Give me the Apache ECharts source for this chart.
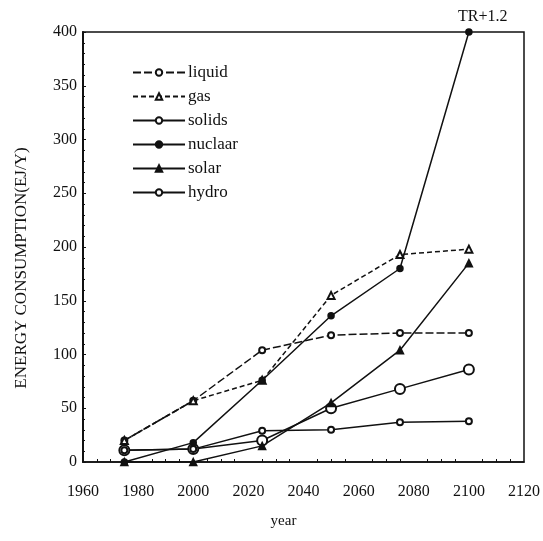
<!DOCTYPE html>
<html>
<head>
<meta charset="utf-8">
<script src="https://cdn.jsdelivr.net/npm/echarts@6/dist/echarts.min.js"></script>
<style>
html,body{margin:0;padding:0;background:#fff;}
#chart{width:543px;height:541px;}
</style>
</head>
<body>
<div id="chart"></div>
<script>
// Data
const years = [1975, 2000, 2025, 2050, 2075, 2100];
const liquid  = [20, 57, 104, 118, 120, 120];
const gas     = [20, 57, 76, 155, 193, 198];
const solids  = [11, 12, 20, 50, 68, 86];
const nuclear = [0, 18, 76, 136, 180, 400];
const solar   = [0, 0, 15, 55, 104, 185];
const hydro   = [11, 12, 29, 30, 37, 38];
const seriesNames = ['liquid', 'gas', 'solids', 'nuclaar', 'solar', 'hydro'];
const xTicks = [1960, 1980, 2000, 2020, 2040, 2060, 2080, 2100, 2120];
const yTicks = [0, 50, 100, 150, 200, 250, 300, 350, 400];
const yTitle = 'ENERGY CONSUMPTION(EJ/Y)';

const FONT = '"Liberation Serif", "DejaVu Serif", serif';
const INK = '#111';

function pairs(vals) { return years.map((y, i) => [y, vals[i]]); }

const styles = [
  { data: liquid,  symbol: 'emptyCircle',   size: 6,  type: [8, 3] },
  { data: gas,     symbol: 'emptyTriangle', size: 7,  type: [5, 3] },
  { data: solids,  symbol: 'emptyCircle',   size: 10, type: 'solid' },
  { data: nuclear, symbol: 'circle',        size: 6,  type: 'solid' },
  { data: solar,   symbol: 'triangle',      size: 7,  type: 'solid' },
  { data: hydro,   symbol: 'emptyCircle',   size: 6,  type: 'solid' }
];

const chart = echarts.init(document.getElementById('chart'), null, { renderer: 'canvas' });
chart.setOption({
  animation: false,
  backgroundColor: '#fff',
  title: {
    text: 'TR+1.2',
    left: 453, top: 4,
    textStyle: { fontFamily: FONT, fontSize: 16, fontWeight: 'normal', color: INK }
  },
  graphic: [{
    type: 'text',
    x: 22, y: 268,
    rotation: Math.PI / 2,
    style: { text: yTitle, fontFamily: FONT, fontSize: 17, fill: INK, align: 'center', verticalAlign: 'middle' }
  }],
  legend: {
    orient: 'vertical',
    left: 132, top: 64,
    padding: 0,
    itemWidth: 52, itemHeight: 8,
    itemGap: 7,
    data: seriesNames,
    textStyle: { fontFamily: FONT, fontSize: 17, color: INK, padding: [0, 0, 0, -2] },
    inactiveColor: '#ccc'
  },
  grid: {
    left: 83, right: 19, top: 32, bottom: 79,
    show: true, borderColor: INK, borderWidth: 1.5, backgroundColor: 'transparent'
  },
  xAxis: {
    type: 'value', min: xTicks[0], max: xTicks[xTicks.length - 1], interval: 20,
    name: 'year', nameLocation: 'middle', nameGap: 52,
    nameTextStyle: { fontFamily: FONT, fontSize: 15, color: INK, padding: [0, 40, 0, 0] },
    axisLine: { show: true, lineStyle: { color: INK, width: 1.5 } },
    axisTick: { show: false, inside: true },
    minorTick: { show: true, splitNumber: 4, length: 3, lineStyle: { color: INK } },
    axisLabel: { fontFamily: FONT, fontSize: 16, color: INK, margin: 22, showMinLabel: true, showMaxLabel: true,
      formatter: v => String(v) },
    splitLine: { show: false }
  },
  yAxis: {
    type: 'value', min: yTicks[0], max: yTicks[yTicks.length - 1], interval: 50,
    axisLine: { show: true, lineStyle: { color: INK, width: 2 } },
    axisTick: { show: true, inside: true, length: 3, lineStyle: { color: INK } },
    minorTick: { show: true, splitNumber: 5, length: 2, lineStyle: { color: INK } },
    axisLabel: { fontFamily: FONT, fontSize: 16, color: INK, margin: 6, formatter: v => String(v) },
    splitLine: { show: false }
  },
  series: styles.map((s, i) => ({
    name: seriesNames[i],
    type: 'line',
    data: pairs(s.data),
    symbol: s.symbol,
    symbolSize: s.size,
    showAllSymbol: true,
    lineStyle: { color: INK, width: 1.5, type: s.type },
    itemStyle: { color: INK, borderColor: INK, borderWidth: 1.5 },
    z: 3
  }))
});
</script>
</body>
</html>
